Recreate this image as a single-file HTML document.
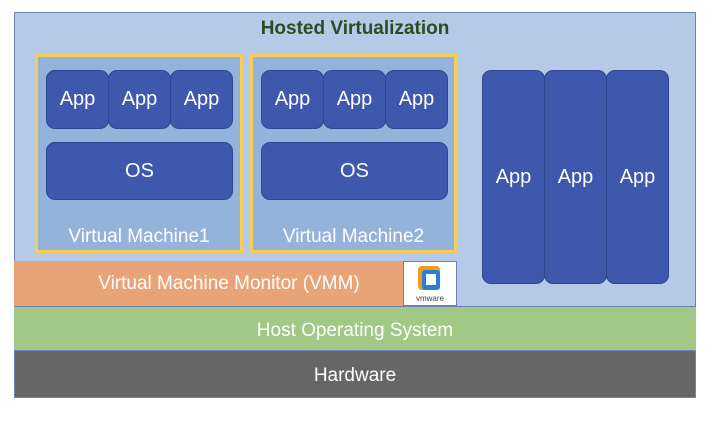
<!DOCTYPE html>
<html><head><meta charset="utf-8"><style>
body{margin:0;width:715px;height:422px;background:#fff;position:relative;overflow:hidden;font-family:"Liberation Sans","Noto Sans CJK KR",sans-serif}
div{position:absolute;box-sizing:border-box}
.c{display:flex;align-items:center;justify-content:center;color:#fff}
.app{background:#3d58ad;border:1px solid #2f4790;border-radius:9px;font-size:20px}
.vm{border:3px solid #f5cc5a;background:#94b3db}
</style></head><body>
<div style="left:14px;top:12px;width:682px;height:386px;background:#b5cae6;border:1px solid #6d83b8"></div>
<div style="left:200px;top:16px;width:310px;height:26px;font-weight:bold;font-size:19px;color:#2e4a24;text-align:center;line-height:26px">Hosted Virtualization</div>
<div class="vm" style="left:35px;top:54px;width:208px;height:199px"></div>
<div class="vm" style="left:250px;top:54px;width:207px;height:199px"></div>
<div class="c app" style="left:46px;top:70px;width:63px;height:59px">App</div>
<div class="c app" style="left:108px;top:70px;width:63px;height:59px">App</div>
<div class="c app" style="left:170px;top:70px;width:63px;height:59px">App</div>
<div class="c app" style="left:46px;top:142px;width:187px;height:58px">OS</div>
<div class="c" style="left:38px;top:224px;width:202px;height:26px;font-size:19px">Virtual Machine1</div>
<div class="c app" style="left:261px;top:70px;width:63px;height:59px">App</div>
<div class="c app" style="left:323px;top:70px;width:63px;height:59px">App</div>
<div class="c app" style="left:385px;top:70px;width:63px;height:59px">App</div>
<div class="c app" style="left:261px;top:142px;width:187px;height:58px">OS</div>
<div class="c" style="left:253px;top:224px;width:201px;height:26px;font-size:19px">Virtual Machine2</div>
<div class="c app" style="left:482px;top:70px;width:63px;height:214px">App</div>
<div class="c app" style="left:544px;top:70px;width:63px;height:214px">App</div>
<div class="c app" style="left:606px;top:70px;width:63px;height:214px">App</div>
<div class="c" style="left:14px;top:261px;width:390px;height:45px;background:#e8a478;font-size:19px;padding-left:40px">Virtual Machine Monitor (VMM)</div>
<div style="left:403px;top:261px;width:54px;height:45px;background:#fff;border:1px solid #6d83b8">
<svg width="52" height="43"><rect x="14" y="4" width="22" height="24" rx="4" fill="#f39a1c"/><rect x="18" y="8" width="18" height="20" rx="3" fill="#2a7fd0"/><rect x="22" y="12" width="10" height="11" fill="#fff"/><text x="26" y="39" font-size="8" fill="#444" text-anchor="middle" font-family="Liberation Sans">vmware</text></svg></div>
<div class="c" style="left:14px;top:306px;width:682px;height:45px;background:#a2c885;border-top:1px solid #6d83b8;font-size:19px;padding-top:4px">Host Operating System</div>
<div class="c" style="left:14px;top:350px;width:682px;height:48px;background:#666;border:1px solid #6d83b8;font-size:19px;padding-top:4px">Hardware</div>
</body></html>
